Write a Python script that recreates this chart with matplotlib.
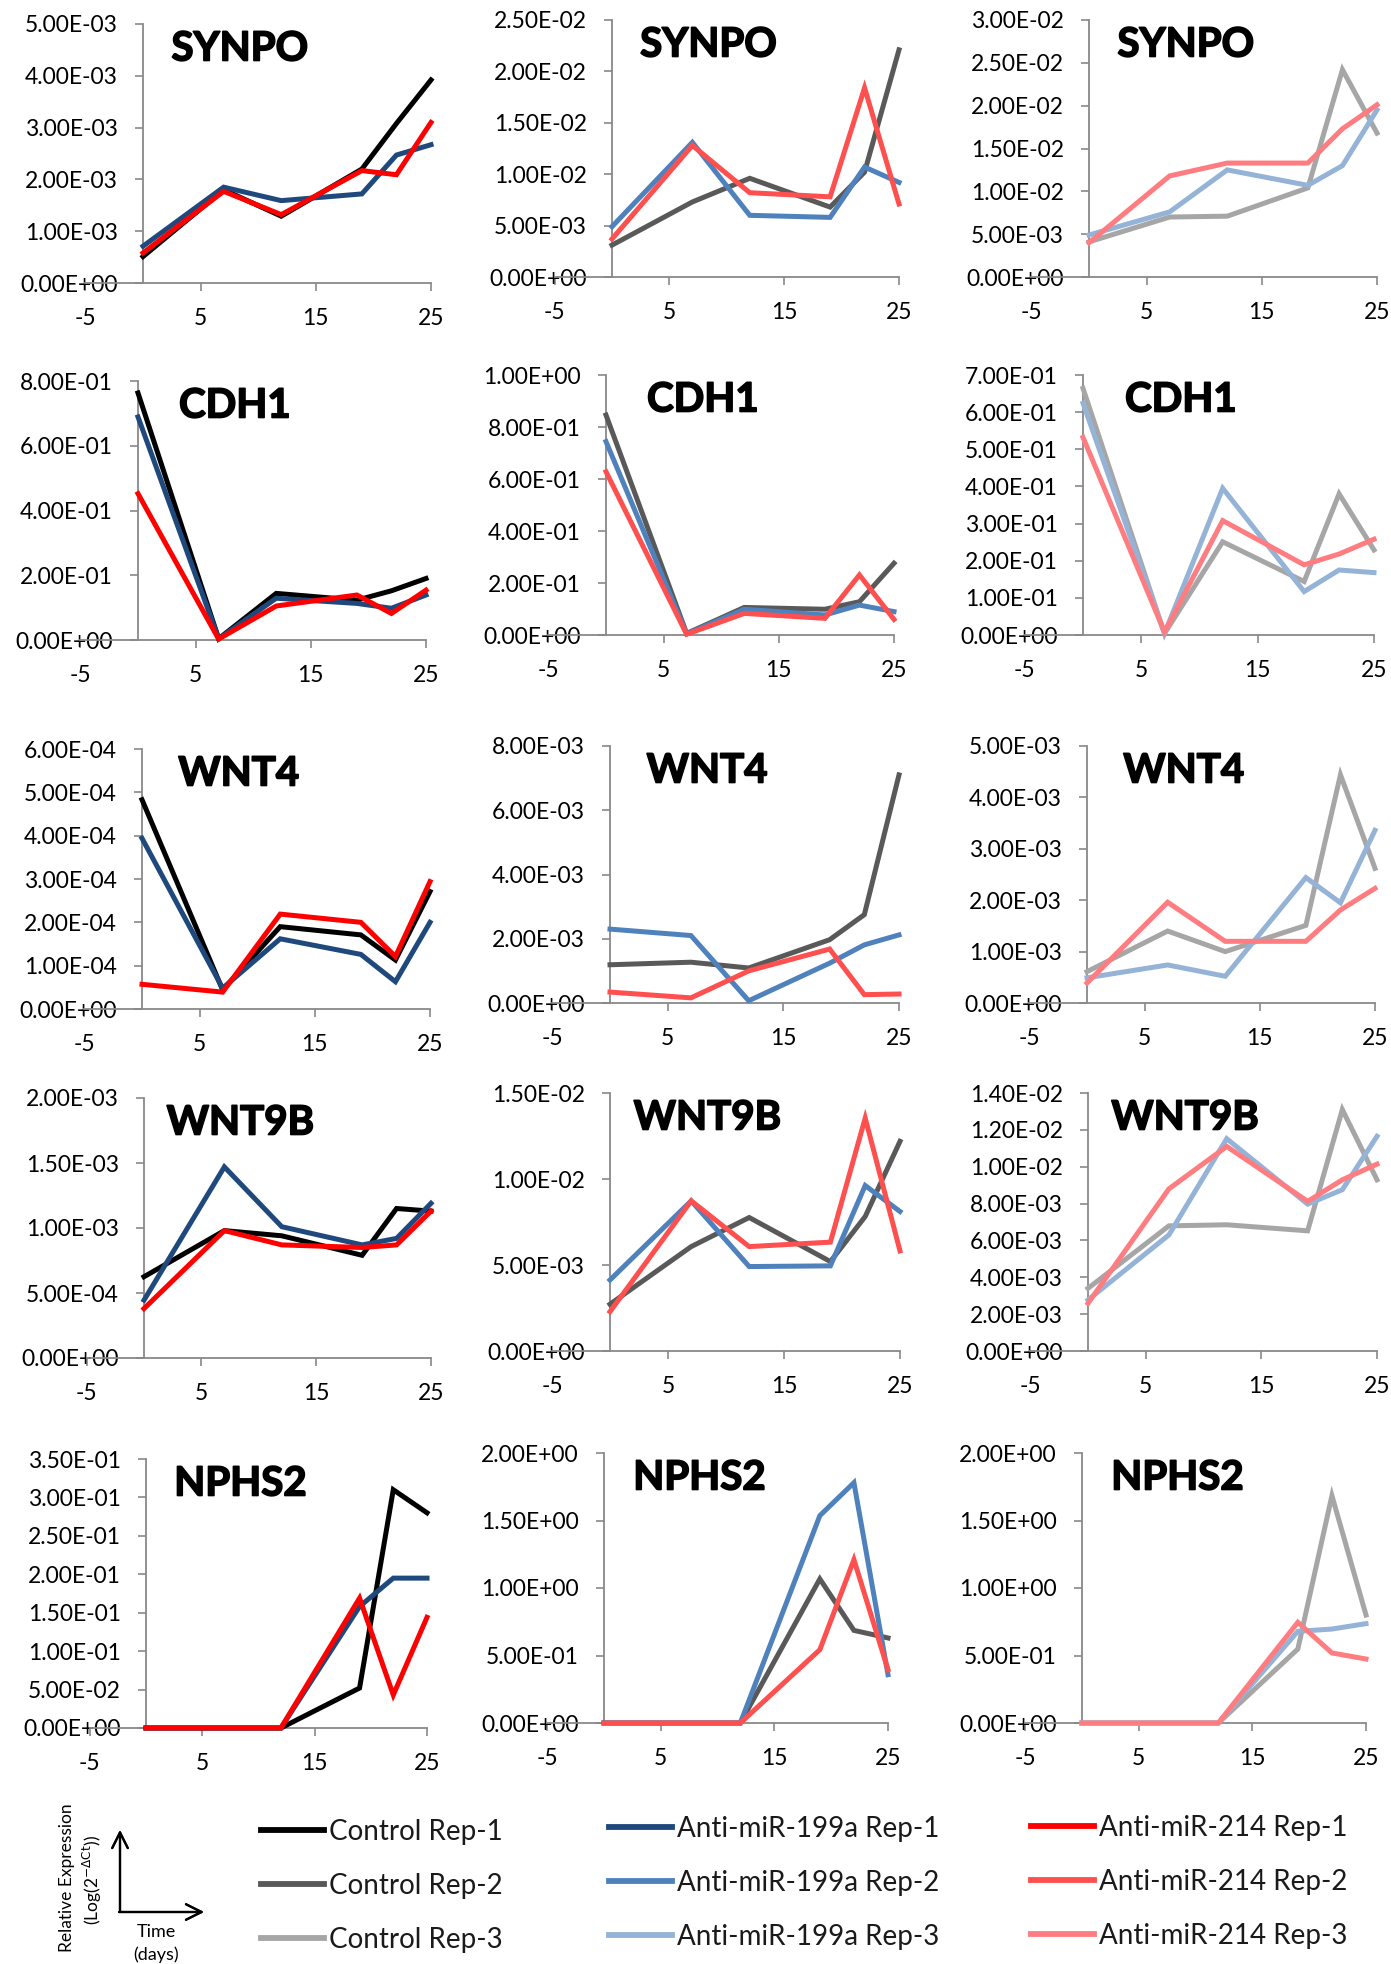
import numpy as np
import matplotlib
matplotlib.use('Agg')
from matplotlib import pyplot as plt
from matplotlib import patheffects
from matplotlib.lines import Line2D

plt.rcParams['font.family'] = ['Lato', 'DejaVu Sans']

days = [0, 7, 12, 19, 22, 25]
genes = ['SYNPO', 'CDH1', 'WNT4', 'WNT9B', 'NPHS2']

# each list: rep-1, rep-2, rep-3
synpo_control = [
    [0.51e-3, 1.80e-3, 1.29e-3, 2.20e-3, 3.08e-3, 3.92e-3],
    [3.1e-3, 7.3e-3, 9.6e-3, 6.8e-3, 10.2e-3, 22.1e-3],
    [4.1e-3, 7.0e-3, 7.1e-3, 10.4e-3, 24.2e-3, 16.8e-3],
]
synpo_199a = [
    [0.71e-3, 1.85e-3, 1.59e-3, 1.72e-3, 2.47e-3, 2.67e-3],
    [4.9e-3, 13.1e-3, 6.0e-3, 5.8e-3, 10.7e-3, 9.2e-3],
    [4.9e-3, 7.6e-3, 12.5e-3, 10.7e-3, 13.0e-3, 19.5e-3],
]
synpo_214 = [
    [0.58e-3, 1.77e-3, 1.32e-3, 2.17e-3, 2.09e-3, 3.10e-3],
    [3.7e-3, 12.8e-3, 8.2e-3, 7.8e-3, 18.4e-3, 7.1e-3],
    [4.0e-3, 11.8e-3, 13.3e-3, 13.3e-3, 17.3e-3, 20.1e-3],
]

cdh1_control = [
    [0.763, 0.004, 0.144, 0.123, 0.152, 0.190],
    [0.846, 0.006, 0.106, 0.099, 0.128, 0.276],
    [0.664, 0.004, 0.251, 0.144, 0.380, 0.229],
]
cdh1_199a = [
    [0.689, 0.004, 0.129, 0.113, 0.098, 0.139],
    [0.744, 0.004, 0.099, 0.077, 0.115, 0.090],
    [0.624, 0.004, 0.395, 0.117, 0.175, 0.168],
]
cdh1_214 = [
    [0.452, 0.003, 0.105, 0.139, 0.082, 0.154],
    [0.628, 0.003, 0.083, 0.064, 0.231, 0.060],
    [0.532, 0.008, 0.308, 0.189, 0.218, 0.258],
]

wnt4_control = [
    [4.83e-4, 0.44e-4, 1.90e-4, 1.71e-4, 1.13e-4, 2.71e-4],
    [1.19e-3, 1.27e-3, 1.09e-3, 1.97e-3, 2.75e-3, 7.10e-3],
    [0.61e-3, 1.40e-3, 1.00e-3, 1.51e-3, 4.44e-3, 2.62e-3],
]
wnt4_199a = [
    [3.94e-4, 0.48e-4, 1.62e-4, 1.26e-4, 0.63e-4, 2.00e-4],
    [2.30e-3, 2.10e-3, 0.07e-3, 1.24e-3, 1.81e-3, 2.12e-3],
    [0.49e-3, 0.74e-3, 0.52e-3, 2.44e-3, 1.95e-3, 3.36e-3],
]
wnt4_214 = [
    [0.57e-4, 0.39e-4, 2.19e-4, 2.00e-4, 1.21e-4, 2.94e-4],
    [0.34e-3, 0.16e-3, 1.00e-3, 1.68e-3, 0.26e-3, 0.28e-3],
    [0.39e-3, 1.96e-3, 1.20e-3, 1.20e-3, 1.81e-3, 2.23e-3],
]

wnt9b_control = [
    [6.25e-4, 9.8e-4, 9.4e-4, 7.9e-4, 11.5e-4, 11.3e-4],
    [2.72e-3, 6.07e-3, 7.76e-3, 5.20e-3, 7.82e-3, 12.19e-3],
    [3.40e-3, 6.79e-3, 6.85e-3, 6.52e-3, 13.1e-3, 9.29e-3],
]
wnt9b_199a = [
    [4.45e-4, 14.7e-4, 10.1e-4, 8.7e-4, 9.2e-4, 11.9e-4],
    [4.13e-3, 8.73e-3, 4.91e-3, 4.95e-3, 9.62e-3, 8.11e-3],
    [2.77e-3, 6.30e-3, 11.52e-3, 7.97e-3, 8.75e-3, 11.65e-3],
]
wnt9b_214 = [
    [3.8e-4, 9.8e-4, 8.7e-4, 8.5e-4, 8.7e-4, 11.3e-4],
    [2.29e-3, 8.73e-3, 6.07e-3, 6.33e-3, 13.54e-3, 5.82e-3],
    [2.59e-3, 8.80e-3, 11.1e-3, 8.12e-3, 9.29e-3, 10.14e-3],
]

nphs2_control = [
    [0, 0, 0, 0.052, 0.310, 0.280],
    [0, 0, 0, 1.067, 0.686, 0.630],
    [0, 0, 0, 0.548, 1.684, 0.800],
]
nphs2_199a = [
    [0, 0, 0, 0.158, 0.195, 0.195],
    [0, 0, 0, 1.536, 1.780, 0.358],
    [0, 0, 0, 0.679, 0.696, 0.736],
]
nphs2_214 = [
    [0, 0, 0, 0.169, 0.043, 0.144],
    [0, 0, 0, 0.543, 1.210, 0.395],
    [0, 0, 0, 0.746, 0.519, 0.474],
]

# y axis max / step for each gene, per replicate column
y_max = [[5e-3, 2.5e-2, 3e-2], [0.8, 1.0, 0.7], [6e-4, 8e-3, 5e-3],
         [2e-3, 1.5e-2, 1.4e-2], [0.35, 2.0, 2.0]]
y_step = [[1e-3, 5e-3, 5e-3], [0.2, 0.2, 0.1], [1e-4, 2e-3, 1e-3],
          [5e-4, 5e-3, 2e-3], [0.05, 0.5, 0.5]]
x_ticks = [-5, 5, 15, 25]

group_names = ['Control', 'Anti-miR-199a', 'Anti-miR-214']
group_colors = [
    ['#000000', '#595959', '#a6a6a6'],
    ['#1f497d', '#4f81bd', '#95b3d7'],
    ['#ff0000', '#ff4f4f', '#ff7c80'],
]

all_data = [
    [synpo_control, synpo_199a, synpo_214],
    [cdh1_control, cdh1_199a, cdh1_214],
    [wnt4_control, wnt4_199a, wnt4_214],
    [wnt9b_control, wnt9b_199a, wnt9b_214],
    [nphs2_control, nphs2_199a, nphs2_214],
]

# panel placement in pixels: top tick, zero line, x=0 and x=25 positions
W, H = 1391, 1964
tops = [[24, 20, 20], [381, 375, 375], [749, 746, 746], [1098, 1093, 1093], [1459, 1453, 1453]]
zeros = [[283, 277, 277], [640, 635, 635], [1009, 1003, 1003], [1358, 1351, 1351], [1728, 1723, 1723]]
x0s = [[143, 612, 1089], [138, 606, 1083], [142, 610, 1087], [144, 610, 1088], [146, 604, 1082]]
x25s = [[431, 899, 1377], [426, 894, 1374], [430, 899, 1375], [431, 900, 1377], [427, 888, 1366]]

axis_gray = '#898989'
line_width = 3.6

figure = plt.figure(figsize=(W / 100, H / 100), dpi=100)

for row, gene in enumerate(genes):
    for rep in range(3):
        px_per_day = (x25s[row][rep] - x0s[row][rep]) / 25.0
        left_px = x0s[row][rep] - 5 * px_per_day
        rect = [left_px / W, 1 - zeros[row][rep] / H,
                (x25s[row][rep] - left_px) / W, (zeros[row][rep] - tops[row][rep]) / H]
        ax = figure.add_axes(rect)

        for group_idx in range(3):
            ax.plot(days, all_data[row][group_idx][rep], color=group_colors[group_idx][rep],
                    linewidth=line_width, solid_joinstyle='miter', clip_on=False, zorder=3)

        ax.set_xlim(-5, 25)
        ax.set_ylim(0, y_max[row][rep])
        n_ticks = int(round(y_max[row][rep] / y_step[row][rep])) + 1
        y_ticks = np.linspace(0, y_max[row][rep], n_ticks)
        ax.set_yticks(y_ticks)
        ax.set_yticklabels(['{:.2E}'.format(v) for v in y_ticks])
        ax.set_xticks(x_ticks)
        ax.set_xticklabels([str(v) for v in x_ticks])

        ax.spines['left'].set_position(('data', 0))
        ax.spines['right'].set_visible(False)
        ax.spines['top'].set_visible(False)
        for side in ['left', 'bottom']:
            ax.spines[side].set_color(axis_gray)
            ax.spines[side].set_linewidth(1.3)
        ax.tick_params(axis='y', direction='out', length=6, width=1.2, color=axis_gray,
                       pad=12, labelsize=16.5)
        ax.tick_params(axis='x', direction='out', length=6, width=1.2, color=axis_gray,
                       pad=12, labelsize=16.5)
        ax.patch.set_visible(False)

        ax.annotate(gene, xy=(8.4, 1.0), xycoords=('data', 'axes fraction'),
                    xytext=(0, -18), textcoords='offset points',
                    ha='center', va='center', fontsize=29, fontweight='bold',
                    path_effects=[patheffects.withStroke(linewidth=1.2, foreground='black')])

# legend, one block per group
legend_x = [261, 609, 1031]
legend_top = [1819, 1816, 1815]
for group_idx in range(3):
    handles = [Line2D([0], [0], color=group_colors[group_idx][rep], linewidth=4.2)
               for rep in range(3)]
    labels = ['{} Rep-{}'.format(group_names[group_idx], rep + 1) for rep in range(3)]
    figure.legend(handles, labels, loc='upper left',
                  bbox_to_anchor=(legend_x[group_idx] / W, 1 - legend_top[group_idx] / H),
                  frameon=False, fontsize=20, handlelength=2.25, handletextpad=0.2,
                  labelspacing=1.0, borderpad=0, borderaxespad=0, labelcolor='#1a1a1a')

# axis key in the corner
figure.text(67 / W, 1 - 1878 / H, 'Relative Expression', rotation=90,
            ha='center', va='center', fontsize=12.5)
figure.text(92 / W, 1 - 1880 / H, r'(Log(2$^{-\Delta\mathrm{Ct}}$))', rotation=90,
            ha='center', va='center', fontsize=12.5)
figure.text(156 / W, 1 - 1932 / H, 'Time', ha='center', va='center', fontsize=13)
figure.text(156 / W, 1 - 1955 / H, '(days)', ha='center', va='center', fontsize=13)
arrow_style = dict(arrowstyle='->', linewidth=1.6, color='black', mutation_scale=28,
                   shrinkA=0, shrinkB=0)
figure.add_artist(plt.annotate('', xy=(120 / W, 1 - 1830 / H), xytext=(120 / W, 1 - 1912 / H),
                               xycoords='figure fraction', arrowprops=arrow_style))
figure.add_artist(plt.annotate('', xy=(204 / W, 1 - 1912 / H), xytext=(119 / W, 1 - 1912 / H),
                               xycoords='figure fraction', arrowprops=arrow_style))

plt.savefig('out.png', dpi=100)
